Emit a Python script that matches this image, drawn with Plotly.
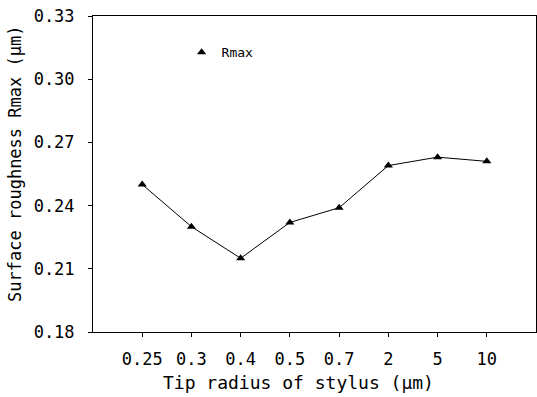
import plotly.graph_objects as go

categories = ["0.25", "0.3", "0.4", "0.5", "0.7", "2", "5", "10"]
rmax = [0.250, 0.230, 0.215, 0.232, 0.239, 0.259, 0.263, 0.261]
y_ticks = [0.18, 0.21, 0.24, 0.27, 0.30, 0.33]

FONT = "DejaVu Sans Mono"
xpos = list(range(len(categories)))

fig = go.Figure()
fig.add_trace(go.Scatter(
    x=xpos, y=rmax, mode="lines+markers", name="Rmax", showlegend=False,
    line=dict(color="black", width=1),
    marker=dict(symbol="triangle-up", size=8, color="black"),
))
# legend entry: marker only
fig.add_trace(go.Scatter(
    x=[None], y=[None], mode="markers", name="Rmax", showlegend=True,
    marker=dict(symbol="triangle-up", size=8, color="black"),
))

fig.update_layout(
    width=537, height=397,
    margin=dict(l=93, r=1, t=16, b=65, autoexpand=False),
    paper_bgcolor="white", plot_bgcolor="white",
    font=dict(family=FONT, size=17, color="black"),
    showlegend=True,
    legend=dict(x=0.2, y=0.885, xanchor="left", yanchor="middle",
                bgcolor="rgba(0,0,0,0)", font=dict(size=13, family=FONT),
                itemwidth=30),
    xaxis=dict(
        range=[-1, 8], tickmode="array", tickvals=xpos, ticktext=categories,
        automargin=False,
        showgrid=False, zeroline=False, showline=True, linecolor="black",
        linewidth=1, mirror=True, ticks="outside", ticklen=4, tickcolor="black",
        ticklabelstandoff=8,
    ),
    yaxis=dict(
        range=[0.18, 0.33], tickmode="array", tickvals=y_ticks,
        ticktext=[f"{v:.2f}" for v in y_ticks],
        automargin=False,
        showgrid=False, zeroline=False, showline=True, linecolor="black",
        linewidth=1, mirror=True, ticks="outside", ticklen=4, tickcolor="black",
        ticklabelstandoff=10,
    ),
    annotations=[
        dict(text="Tip radius of stylus (μm)", xref="paper", yref="paper",
             x=0.465, y=-0.161, xanchor="center", yanchor="middle",
             showarrow=False, font=dict(size=18, family=FONT)),
        dict(text="Surface roughness Rmax (μm)", xref="paper", yref="paper",
             x=-0.176, y=0.532, xanchor="center", yanchor="middle",
             textangle=-90, showarrow=False, font=dict(size=17, family=FONT)),
    ],
)

fig.write_html("out.html", config={"displayModeBar": False},
               post_script="document.body.style.margin='0';")
